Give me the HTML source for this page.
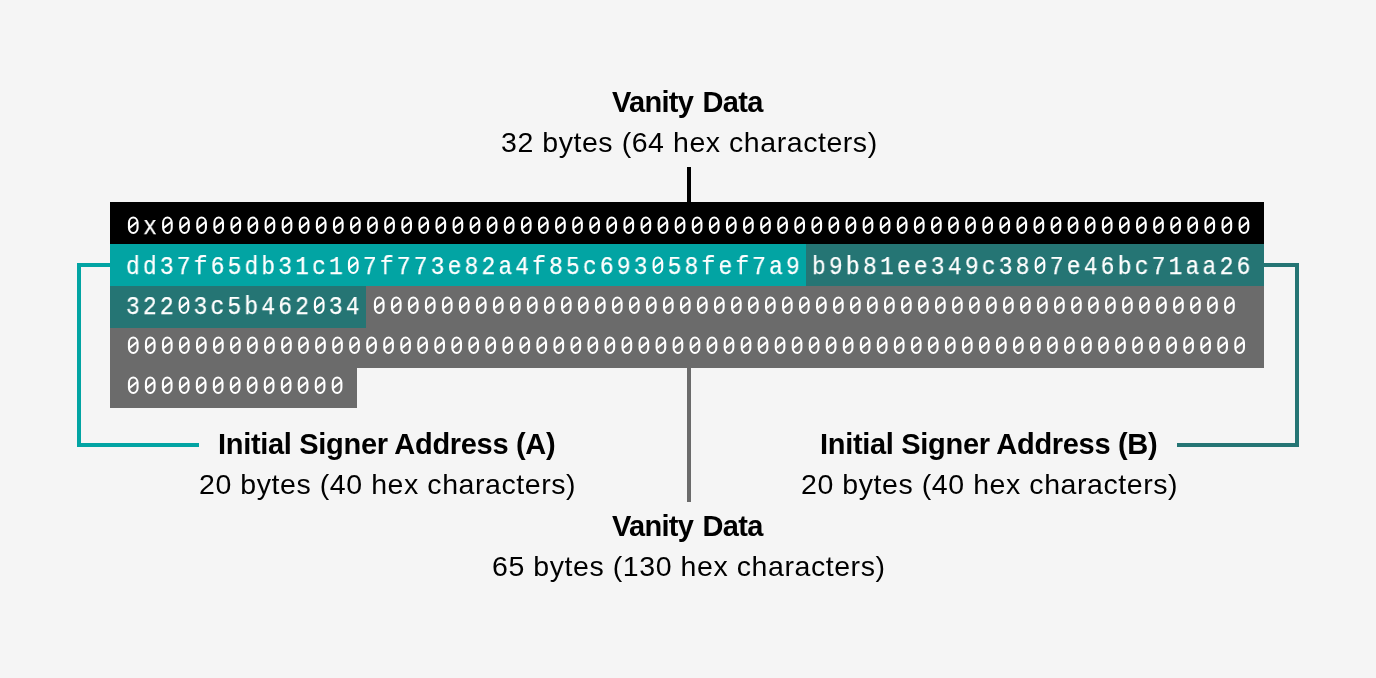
<!DOCTYPE html>
<html><head><meta charset="utf-8">
<style>
html,body{margin:0;padding:0}
body{width:1376px;height:678px;background:#f5f5f5;position:relative;overflow:hidden;font-family:"Liberation Sans",sans-serif;color:#000}
.a{position:absolute}
.m{position:absolute;font-family:"Liberation Mono",monospace;font-size:26px;line-height:30px;color:#fff;white-space:pre;transform:scaleX(0.88);transform-origin:0 0;will-change:transform;-webkit-text-stroke:0.25px #fff}
.lb{position:absolute;white-space:nowrap;line-height:30px;font-size:28.5px;will-change:transform}
.b{font-weight:bold;font-size:29px}
svg{position:absolute;left:0;top:0}
.m i{font-style:normal;color:transparent;-webkit-text-stroke:0}
</style></head><body>

<div class="a" style="left:77px;top:263px;width:4px;height:184px;background:#02a4a3"></div>
<div class="a" style="left:77px;top:263px;width:33px;height:4px;background:#02a4a3"></div>
<div class="a" style="left:77px;top:443px;width:122px;height:4px;background:#02a4a3"></div>
<div class="a" style="left:1295px;top:263px;width:4px;height:184px;background:#257574"></div>
<div class="a" style="left:1264px;top:263px;width:35px;height:4px;background:#257574"></div>
<div class="a" style="left:1177px;top:443px;width:122px;height:4px;background:#257574"></div>
<div class="a" style="left:687px;top:167px;width:4px;height:35px;background:#000"></div>
<div class="a" style="left:687px;top:368px;width:4px;height:134px;background:#6b6b6b"></div>
<div class="a" style="left:110px;top:202px;width:1154px;height:42px;background:#000"></div>
<div class="a" style="left:110px;top:244px;width:696px;height:42px;background:#02a4a3"></div>
<div class="a" style="left:806px;top:244px;width:458px;height:42px;background:#257574"></div>
<div class="a" style="left:110px;top:286px;width:256px;height:42px;background:#257574"></div>
<div class="a" style="left:366px;top:286px;width:898px;height:42px;background:#6b6b6b"></div>
<div class="a" style="left:110px;top:328px;width:1154px;height:40px;background:#6b6b6b"></div>
<div class="a" style="left:110px;top:368px;width:247px;height:40px;background:#6b6b6b"></div>
<div class="m" style="left:126px;top:212px;letter-spacing:3.815px"><i>0</i>x<i>0000000000000000000000000000000000000000000000000000000000000000</i></div>
<div class="m" style="left:126px;top:252px;letter-spacing:3.63px">dd37f65db31c1<i>0</i>7f773e82a4f85c693<i>0</i>58fef7a9</div>
<div class="m" style="left:812px;top:252px;letter-spacing:3.695px">b9b81ee349c38<i>0</i>7e46bc71aa26</div>
<div class="m" style="left:126px;top:292px;letter-spacing:3.61px">322<i>0</i>3c5b462<i>0</i>34</div>
<div class="m" style="left:372px;top:292px;letter-spacing:3.72px"><i>000000000000000000000000000000000000000000000000000</i></div>
<div class="m" style="left:126px;top:332px;letter-spacing:3.74px"><i>000000000000000000000000000000000000000000000000000000000000000000</i></div>
<div class="m" style="left:126px;top:372px;letter-spacing:3.7px"><i>0000000000000</i></div>
<svg width="1376" height="678" viewBox="0 0 1376 678"><g fill="none" stroke="#fff" stroke-width="2.1">
<rect x="128.95" y="217.55" width="8.6" height="15.4" rx="4.3" ry="5.2"/>
<rect x="163.12" y="217.55" width="8.6" height="15.4" rx="4.3" ry="5.2"/>
<rect x="180.21" y="217.55" width="8.6" height="15.4" rx="4.3" ry="5.2"/>
<rect x="197.30" y="217.55" width="8.6" height="15.4" rx="4.3" ry="5.2"/>
<rect x="214.39" y="217.55" width="8.6" height="15.4" rx="4.3" ry="5.2"/>
<rect x="231.47" y="217.55" width="8.6" height="15.4" rx="4.3" ry="5.2"/>
<rect x="248.56" y="217.55" width="8.6" height="15.4" rx="4.3" ry="5.2"/>
<rect x="265.65" y="217.55" width="8.6" height="15.4" rx="4.3" ry="5.2"/>
<rect x="282.74" y="217.55" width="8.6" height="15.4" rx="4.3" ry="5.2"/>
<rect x="299.82" y="217.55" width="8.6" height="15.4" rx="4.3" ry="5.2"/>
<rect x="316.91" y="217.55" width="8.6" height="15.4" rx="4.3" ry="5.2"/>
<rect x="334.00" y="217.55" width="8.6" height="15.4" rx="4.3" ry="5.2"/>
<rect x="351.09" y="217.55" width="8.6" height="15.4" rx="4.3" ry="5.2"/>
<rect x="368.17" y="217.55" width="8.6" height="15.4" rx="4.3" ry="5.2"/>
<rect x="385.26" y="217.55" width="8.6" height="15.4" rx="4.3" ry="5.2"/>
<rect x="402.35" y="217.55" width="8.6" height="15.4" rx="4.3" ry="5.2"/>
<rect x="419.44" y="217.55" width="8.6" height="15.4" rx="4.3" ry="5.2"/>
<rect x="436.52" y="217.55" width="8.6" height="15.4" rx="4.3" ry="5.2"/>
<rect x="453.61" y="217.55" width="8.6" height="15.4" rx="4.3" ry="5.2"/>
<rect x="470.70" y="217.55" width="8.6" height="15.4" rx="4.3" ry="5.2"/>
<rect x="487.79" y="217.55" width="8.6" height="15.4" rx="4.3" ry="5.2"/>
<rect x="504.87" y="217.55" width="8.6" height="15.4" rx="4.3" ry="5.2"/>
<rect x="521.96" y="217.55" width="8.6" height="15.4" rx="4.3" ry="5.2"/>
<rect x="539.05" y="217.55" width="8.6" height="15.4" rx="4.3" ry="5.2"/>
<rect x="556.14" y="217.55" width="8.6" height="15.4" rx="4.3" ry="5.2"/>
<rect x="573.22" y="217.55" width="8.6" height="15.4" rx="4.3" ry="5.2"/>
<rect x="590.31" y="217.55" width="8.6" height="15.4" rx="4.3" ry="5.2"/>
<rect x="607.40" y="217.55" width="8.6" height="15.4" rx="4.3" ry="5.2"/>
<rect x="624.49" y="217.55" width="8.6" height="15.4" rx="4.3" ry="5.2"/>
<rect x="641.57" y="217.55" width="8.6" height="15.4" rx="4.3" ry="5.2"/>
<rect x="658.66" y="217.55" width="8.6" height="15.4" rx="4.3" ry="5.2"/>
<rect x="675.75" y="217.55" width="8.6" height="15.4" rx="4.3" ry="5.2"/>
<rect x="692.84" y="217.55" width="8.6" height="15.4" rx="4.3" ry="5.2"/>
<rect x="709.92" y="217.55" width="8.6" height="15.4" rx="4.3" ry="5.2"/>
<rect x="727.01" y="217.55" width="8.6" height="15.4" rx="4.3" ry="5.2"/>
<rect x="744.10" y="217.55" width="8.6" height="15.4" rx="4.3" ry="5.2"/>
<rect x="761.19" y="217.55" width="8.6" height="15.4" rx="4.3" ry="5.2"/>
<rect x="778.27" y="217.55" width="8.6" height="15.4" rx="4.3" ry="5.2"/>
<rect x="795.36" y="217.55" width="8.6" height="15.4" rx="4.3" ry="5.2"/>
<rect x="812.45" y="217.55" width="8.6" height="15.4" rx="4.3" ry="5.2"/>
<rect x="829.53" y="217.55" width="8.6" height="15.4" rx="4.3" ry="5.2"/>
<rect x="846.62" y="217.55" width="8.6" height="15.4" rx="4.3" ry="5.2"/>
<rect x="863.71" y="217.55" width="8.6" height="15.4" rx="4.3" ry="5.2"/>
<rect x="880.80" y="217.55" width="8.6" height="15.4" rx="4.3" ry="5.2"/>
<rect x="897.88" y="217.55" width="8.6" height="15.4" rx="4.3" ry="5.2"/>
<rect x="914.97" y="217.55" width="8.6" height="15.4" rx="4.3" ry="5.2"/>
<rect x="932.06" y="217.55" width="8.6" height="15.4" rx="4.3" ry="5.2"/>
<rect x="949.15" y="217.55" width="8.6" height="15.4" rx="4.3" ry="5.2"/>
<rect x="966.23" y="217.55" width="8.6" height="15.4" rx="4.3" ry="5.2"/>
<rect x="983.32" y="217.55" width="8.6" height="15.4" rx="4.3" ry="5.2"/>
<rect x="1000.41" y="217.55" width="8.6" height="15.4" rx="4.3" ry="5.2"/>
<rect x="1017.50" y="217.55" width="8.6" height="15.4" rx="4.3" ry="5.2"/>
<rect x="1034.58" y="217.55" width="8.6" height="15.4" rx="4.3" ry="5.2"/>
<rect x="1051.67" y="217.55" width="8.6" height="15.4" rx="4.3" ry="5.2"/>
<rect x="1068.76" y="217.55" width="8.6" height="15.4" rx="4.3" ry="5.2"/>
<rect x="1085.85" y="217.55" width="8.6" height="15.4" rx="4.3" ry="5.2"/>
<rect x="1102.93" y="217.55" width="8.6" height="15.4" rx="4.3" ry="5.2"/>
<rect x="1120.02" y="217.55" width="8.6" height="15.4" rx="4.3" ry="5.2"/>
<rect x="1137.11" y="217.55" width="8.6" height="15.4" rx="4.3" ry="5.2"/>
<rect x="1154.20" y="217.55" width="8.6" height="15.4" rx="4.3" ry="5.2"/>
<rect x="1171.28" y="217.55" width="8.6" height="15.4" rx="4.3" ry="5.2"/>
<rect x="1188.37" y="217.55" width="8.6" height="15.4" rx="4.3" ry="5.2"/>
<rect x="1205.46" y="217.55" width="8.6" height="15.4" rx="4.3" ry="5.2"/>
<rect x="1222.55" y="217.55" width="8.6" height="15.4" rx="4.3" ry="5.2"/>
<rect x="1239.63" y="217.55" width="8.6" height="15.4" rx="4.3" ry="5.2"/>
<rect x="348.97" y="257.55" width="8.6" height="15.4" rx="4.3" ry="5.2"/>
<rect x="653.61" y="257.55" width="8.6" height="15.4" rx="4.3" ry="5.2"/>
<rect x="1035.71" y="257.55" width="8.6" height="15.4" rx="4.3" ry="5.2"/>
<rect x="179.67" y="297.55" width="8.6" height="15.4" rx="4.3" ry="5.2"/>
<rect x="314.93" y="297.55" width="8.6" height="15.4" rx="4.3" ry="5.2"/>
<rect x="374.95" y="297.55" width="8.6" height="15.4" rx="4.3" ry="5.2"/>
<rect x="391.95" y="297.55" width="8.6" height="15.4" rx="4.3" ry="5.2"/>
<rect x="408.96" y="297.55" width="8.6" height="15.4" rx="4.3" ry="5.2"/>
<rect x="425.96" y="297.55" width="8.6" height="15.4" rx="4.3" ry="5.2"/>
<rect x="442.97" y="297.55" width="8.6" height="15.4" rx="4.3" ry="5.2"/>
<rect x="459.97" y="297.55" width="8.6" height="15.4" rx="4.3" ry="5.2"/>
<rect x="476.97" y="297.55" width="8.6" height="15.4" rx="4.3" ry="5.2"/>
<rect x="493.98" y="297.55" width="8.6" height="15.4" rx="4.3" ry="5.2"/>
<rect x="510.98" y="297.55" width="8.6" height="15.4" rx="4.3" ry="5.2"/>
<rect x="527.98" y="297.55" width="8.6" height="15.4" rx="4.3" ry="5.2"/>
<rect x="544.99" y="297.55" width="8.6" height="15.4" rx="4.3" ry="5.2"/>
<rect x="561.99" y="297.55" width="8.6" height="15.4" rx="4.3" ry="5.2"/>
<rect x="579.00" y="297.55" width="8.6" height="15.4" rx="4.3" ry="5.2"/>
<rect x="596.00" y="297.55" width="8.6" height="15.4" rx="4.3" ry="5.2"/>
<rect x="613.00" y="297.55" width="8.6" height="15.4" rx="4.3" ry="5.2"/>
<rect x="630.01" y="297.55" width="8.6" height="15.4" rx="4.3" ry="5.2"/>
<rect x="647.01" y="297.55" width="8.6" height="15.4" rx="4.3" ry="5.2"/>
<rect x="664.02" y="297.55" width="8.6" height="15.4" rx="4.3" ry="5.2"/>
<rect x="681.02" y="297.55" width="8.6" height="15.4" rx="4.3" ry="5.2"/>
<rect x="698.02" y="297.55" width="8.6" height="15.4" rx="4.3" ry="5.2"/>
<rect x="715.03" y="297.55" width="8.6" height="15.4" rx="4.3" ry="5.2"/>
<rect x="732.03" y="297.55" width="8.6" height="15.4" rx="4.3" ry="5.2"/>
<rect x="749.03" y="297.55" width="8.6" height="15.4" rx="4.3" ry="5.2"/>
<rect x="766.04" y="297.55" width="8.6" height="15.4" rx="4.3" ry="5.2"/>
<rect x="783.04" y="297.55" width="8.6" height="15.4" rx="4.3" ry="5.2"/>
<rect x="800.05" y="297.55" width="8.6" height="15.4" rx="4.3" ry="5.2"/>
<rect x="817.05" y="297.55" width="8.6" height="15.4" rx="4.3" ry="5.2"/>
<rect x="834.05" y="297.55" width="8.6" height="15.4" rx="4.3" ry="5.2"/>
<rect x="851.06" y="297.55" width="8.6" height="15.4" rx="4.3" ry="5.2"/>
<rect x="868.06" y="297.55" width="8.6" height="15.4" rx="4.3" ry="5.2"/>
<rect x="885.07" y="297.55" width="8.6" height="15.4" rx="4.3" ry="5.2"/>
<rect x="902.07" y="297.55" width="8.6" height="15.4" rx="4.3" ry="5.2"/>
<rect x="919.07" y="297.55" width="8.6" height="15.4" rx="4.3" ry="5.2"/>
<rect x="936.08" y="297.55" width="8.6" height="15.4" rx="4.3" ry="5.2"/>
<rect x="953.08" y="297.55" width="8.6" height="15.4" rx="4.3" ry="5.2"/>
<rect x="970.08" y="297.55" width="8.6" height="15.4" rx="4.3" ry="5.2"/>
<rect x="987.09" y="297.55" width="8.6" height="15.4" rx="4.3" ry="5.2"/>
<rect x="1004.09" y="297.55" width="8.6" height="15.4" rx="4.3" ry="5.2"/>
<rect x="1021.10" y="297.55" width="8.6" height="15.4" rx="4.3" ry="5.2"/>
<rect x="1038.10" y="297.55" width="8.6" height="15.4" rx="4.3" ry="5.2"/>
<rect x="1055.10" y="297.55" width="8.6" height="15.4" rx="4.3" ry="5.2"/>
<rect x="1072.11" y="297.55" width="8.6" height="15.4" rx="4.3" ry="5.2"/>
<rect x="1089.11" y="297.55" width="8.6" height="15.4" rx="4.3" ry="5.2"/>
<rect x="1106.11" y="297.55" width="8.6" height="15.4" rx="4.3" ry="5.2"/>
<rect x="1123.12" y="297.55" width="8.6" height="15.4" rx="4.3" ry="5.2"/>
<rect x="1140.12" y="297.55" width="8.6" height="15.4" rx="4.3" ry="5.2"/>
<rect x="1157.13" y="297.55" width="8.6" height="15.4" rx="4.3" ry="5.2"/>
<rect x="1174.13" y="297.55" width="8.6" height="15.4" rx="4.3" ry="5.2"/>
<rect x="1191.13" y="297.55" width="8.6" height="15.4" rx="4.3" ry="5.2"/>
<rect x="1208.14" y="297.55" width="8.6" height="15.4" rx="4.3" ry="5.2"/>
<rect x="1225.14" y="297.55" width="8.6" height="15.4" rx="4.3" ry="5.2"/>
<rect x="128.95" y="337.55" width="8.6" height="15.4" rx="4.3" ry="5.2"/>
<rect x="145.97" y="337.55" width="8.6" height="15.4" rx="4.3" ry="5.2"/>
<rect x="162.99" y="337.55" width="8.6" height="15.4" rx="4.3" ry="5.2"/>
<rect x="180.01" y="337.55" width="8.6" height="15.4" rx="4.3" ry="5.2"/>
<rect x="197.04" y="337.55" width="8.6" height="15.4" rx="4.3" ry="5.2"/>
<rect x="214.06" y="337.55" width="8.6" height="15.4" rx="4.3" ry="5.2"/>
<rect x="231.08" y="337.55" width="8.6" height="15.4" rx="4.3" ry="5.2"/>
<rect x="248.10" y="337.55" width="8.6" height="15.4" rx="4.3" ry="5.2"/>
<rect x="265.12" y="337.55" width="8.6" height="15.4" rx="4.3" ry="5.2"/>
<rect x="282.14" y="337.55" width="8.6" height="15.4" rx="4.3" ry="5.2"/>
<rect x="299.16" y="337.55" width="8.6" height="15.4" rx="4.3" ry="5.2"/>
<rect x="316.19" y="337.55" width="8.6" height="15.4" rx="4.3" ry="5.2"/>
<rect x="333.21" y="337.55" width="8.6" height="15.4" rx="4.3" ry="5.2"/>
<rect x="350.23" y="337.55" width="8.6" height="15.4" rx="4.3" ry="5.2"/>
<rect x="367.25" y="337.55" width="8.6" height="15.4" rx="4.3" ry="5.2"/>
<rect x="384.27" y="337.55" width="8.6" height="15.4" rx="4.3" ry="5.2"/>
<rect x="401.29" y="337.55" width="8.6" height="15.4" rx="4.3" ry="5.2"/>
<rect x="418.31" y="337.55" width="8.6" height="15.4" rx="4.3" ry="5.2"/>
<rect x="435.34" y="337.55" width="8.6" height="15.4" rx="4.3" ry="5.2"/>
<rect x="452.36" y="337.55" width="8.6" height="15.4" rx="4.3" ry="5.2"/>
<rect x="469.38" y="337.55" width="8.6" height="15.4" rx="4.3" ry="5.2"/>
<rect x="486.40" y="337.55" width="8.6" height="15.4" rx="4.3" ry="5.2"/>
<rect x="503.42" y="337.55" width="8.6" height="15.4" rx="4.3" ry="5.2"/>
<rect x="520.44" y="337.55" width="8.6" height="15.4" rx="4.3" ry="5.2"/>
<rect x="537.46" y="337.55" width="8.6" height="15.4" rx="4.3" ry="5.2"/>
<rect x="554.49" y="337.55" width="8.6" height="15.4" rx="4.3" ry="5.2"/>
<rect x="571.51" y="337.55" width="8.6" height="15.4" rx="4.3" ry="5.2"/>
<rect x="588.53" y="337.55" width="8.6" height="15.4" rx="4.3" ry="5.2"/>
<rect x="605.55" y="337.55" width="8.6" height="15.4" rx="4.3" ry="5.2"/>
<rect x="622.57" y="337.55" width="8.6" height="15.4" rx="4.3" ry="5.2"/>
<rect x="639.59" y="337.55" width="8.6" height="15.4" rx="4.3" ry="5.2"/>
<rect x="656.61" y="337.55" width="8.6" height="15.4" rx="4.3" ry="5.2"/>
<rect x="673.64" y="337.55" width="8.6" height="15.4" rx="4.3" ry="5.2"/>
<rect x="690.66" y="337.55" width="8.6" height="15.4" rx="4.3" ry="5.2"/>
<rect x="707.68" y="337.55" width="8.6" height="15.4" rx="4.3" ry="5.2"/>
<rect x="724.70" y="337.55" width="8.6" height="15.4" rx="4.3" ry="5.2"/>
<rect x="741.72" y="337.55" width="8.6" height="15.4" rx="4.3" ry="5.2"/>
<rect x="758.74" y="337.55" width="8.6" height="15.4" rx="4.3" ry="5.2"/>
<rect x="775.76" y="337.55" width="8.6" height="15.4" rx="4.3" ry="5.2"/>
<rect x="792.79" y="337.55" width="8.6" height="15.4" rx="4.3" ry="5.2"/>
<rect x="809.81" y="337.55" width="8.6" height="15.4" rx="4.3" ry="5.2"/>
<rect x="826.83" y="337.55" width="8.6" height="15.4" rx="4.3" ry="5.2"/>
<rect x="843.85" y="337.55" width="8.6" height="15.4" rx="4.3" ry="5.2"/>
<rect x="860.87" y="337.55" width="8.6" height="15.4" rx="4.3" ry="5.2"/>
<rect x="877.89" y="337.55" width="8.6" height="15.4" rx="4.3" ry="5.2"/>
<rect x="894.91" y="337.55" width="8.6" height="15.4" rx="4.3" ry="5.2"/>
<rect x="911.94" y="337.55" width="8.6" height="15.4" rx="4.3" ry="5.2"/>
<rect x="928.96" y="337.55" width="8.6" height="15.4" rx="4.3" ry="5.2"/>
<rect x="945.98" y="337.55" width="8.6" height="15.4" rx="4.3" ry="5.2"/>
<rect x="963.00" y="337.55" width="8.6" height="15.4" rx="4.3" ry="5.2"/>
<rect x="980.02" y="337.55" width="8.6" height="15.4" rx="4.3" ry="5.2"/>
<rect x="997.04" y="337.55" width="8.6" height="15.4" rx="4.3" ry="5.2"/>
<rect x="1014.06" y="337.55" width="8.6" height="15.4" rx="4.3" ry="5.2"/>
<rect x="1031.09" y="337.55" width="8.6" height="15.4" rx="4.3" ry="5.2"/>
<rect x="1048.11" y="337.55" width="8.6" height="15.4" rx="4.3" ry="5.2"/>
<rect x="1065.13" y="337.55" width="8.6" height="15.4" rx="4.3" ry="5.2"/>
<rect x="1082.15" y="337.55" width="8.6" height="15.4" rx="4.3" ry="5.2"/>
<rect x="1099.17" y="337.55" width="8.6" height="15.4" rx="4.3" ry="5.2"/>
<rect x="1116.19" y="337.55" width="8.6" height="15.4" rx="4.3" ry="5.2"/>
<rect x="1133.21" y="337.55" width="8.6" height="15.4" rx="4.3" ry="5.2"/>
<rect x="1150.24" y="337.55" width="8.6" height="15.4" rx="4.3" ry="5.2"/>
<rect x="1167.26" y="337.55" width="8.6" height="15.4" rx="4.3" ry="5.2"/>
<rect x="1184.28" y="337.55" width="8.6" height="15.4" rx="4.3" ry="5.2"/>
<rect x="1201.30" y="337.55" width="8.6" height="15.4" rx="4.3" ry="5.2"/>
<rect x="1218.32" y="337.55" width="8.6" height="15.4" rx="4.3" ry="5.2"/>
<rect x="1235.34" y="337.55" width="8.6" height="15.4" rx="4.3" ry="5.2"/>
<rect x="128.95" y="377.55" width="8.6" height="15.4" rx="4.3" ry="5.2"/>
<rect x="145.94" y="377.55" width="8.6" height="15.4" rx="4.3" ry="5.2"/>
<rect x="162.92" y="377.55" width="8.6" height="15.4" rx="4.3" ry="5.2"/>
<rect x="179.91" y="377.55" width="8.6" height="15.4" rx="4.3" ry="5.2"/>
<rect x="196.89" y="377.55" width="8.6" height="15.4" rx="4.3" ry="5.2"/>
<rect x="213.88" y="377.55" width="8.6" height="15.4" rx="4.3" ry="5.2"/>
<rect x="230.87" y="377.55" width="8.6" height="15.4" rx="4.3" ry="5.2"/>
<rect x="247.85" y="377.55" width="8.6" height="15.4" rx="4.3" ry="5.2"/>
<rect x="264.84" y="377.55" width="8.6" height="15.4" rx="4.3" ry="5.2"/>
<rect x="281.83" y="377.55" width="8.6" height="15.4" rx="4.3" ry="5.2"/>
<rect x="298.81" y="377.55" width="8.6" height="15.4" rx="4.3" ry="5.2"/>
<rect x="315.80" y="377.55" width="8.6" height="15.4" rx="4.3" ry="5.2"/>
<rect x="332.78" y="377.55" width="8.6" height="15.4" rx="4.3" ry="5.2"/>
<path d="M129.50 228.00L137.00 222.00M163.67 228.00L171.17 222.00M180.76 228.00L188.26 222.00M197.85 228.00L205.35 222.00M214.94 228.00L222.44 222.00M232.02 228.00L239.52 222.00M249.11 228.00L256.61 222.00M266.20 228.00L273.70 222.00M283.29 228.00L290.79 222.00M300.37 228.00L307.87 222.00M317.46 228.00L324.96 222.00M334.55 228.00L342.05 222.00M351.64 228.00L359.14 222.00M368.72 228.00L376.22 222.00M385.81 228.00L393.31 222.00M402.90 228.00L410.40 222.00M419.99 228.00L427.49 222.00M437.07 228.00L444.57 222.00M454.16 228.00L461.66 222.00M471.25 228.00L478.75 222.00M488.34 228.00L495.84 222.00M505.42 228.00L512.92 222.00M522.51 228.00L530.01 222.00M539.60 228.00L547.10 222.00M556.69 228.00L564.19 222.00M573.77 228.00L581.27 222.00M590.86 228.00L598.36 222.00M607.95 228.00L615.45 222.00M625.04 228.00L632.54 222.00M642.12 228.00L649.62 222.00M659.21 228.00L666.71 222.00M676.30 228.00L683.80 222.00M693.39 228.00L700.89 222.00M710.47 228.00L717.97 222.00M727.56 228.00L735.06 222.00M744.65 228.00L752.15 222.00M761.74 228.00L769.24 222.00M778.82 228.00L786.32 222.00M795.91 228.00L803.41 222.00M813.00 228.00L820.50 222.00M830.08 228.00L837.58 222.00M847.17 228.00L854.67 222.00M864.26 228.00L871.76 222.00M881.35 228.00L888.85 222.00M898.43 228.00L905.93 222.00M915.52 228.00L923.02 222.00M932.61 228.00L940.11 222.00M949.70 228.00L957.20 222.00M966.78 228.00L974.28 222.00M983.87 228.00L991.37 222.00M1000.96 228.00L1008.46 222.00M1018.05 228.00L1025.55 222.00M1035.13 228.00L1042.63 222.00M1052.22 228.00L1059.72 222.00M1069.31 228.00L1076.81 222.00M1086.40 228.00L1093.90 222.00M1103.48 228.00L1110.98 222.00M1120.57 228.00L1128.07 222.00M1137.66 228.00L1145.16 222.00M1154.75 228.00L1162.25 222.00M1171.83 228.00L1179.33 222.00M1188.92 228.00L1196.42 222.00M1206.01 228.00L1213.51 222.00M1223.10 228.00L1230.60 222.00M1240.18 228.00L1247.68 222.00M349.52 268.00L357.02 262.00M654.16 268.00L661.66 262.00M1036.26 268.00L1043.76 262.00M180.22 308.00L187.72 302.00M315.48 308.00L322.98 302.00M375.50 308.00L383.00 302.00M392.50 308.00L400.00 302.00M409.51 308.00L417.01 302.00M426.51 308.00L434.01 302.00M443.52 308.00L451.02 302.00M460.52 308.00L468.02 302.00M477.52 308.00L485.02 302.00M494.53 308.00L502.03 302.00M511.53 308.00L519.03 302.00M528.53 308.00L536.03 302.00M545.54 308.00L553.04 302.00M562.54 308.00L570.04 302.00M579.55 308.00L587.05 302.00M596.55 308.00L604.05 302.00M613.55 308.00L621.05 302.00M630.56 308.00L638.06 302.00M647.56 308.00L655.06 302.00M664.57 308.00L672.07 302.00M681.57 308.00L689.07 302.00M698.57 308.00L706.07 302.00M715.58 308.00L723.08 302.00M732.58 308.00L740.08 302.00M749.58 308.00L757.08 302.00M766.59 308.00L774.09 302.00M783.59 308.00L791.09 302.00M800.60 308.00L808.10 302.00M817.60 308.00L825.10 302.00M834.60 308.00L842.10 302.00M851.61 308.00L859.11 302.00M868.61 308.00L876.11 302.00M885.62 308.00L893.12 302.00M902.62 308.00L910.12 302.00M919.62 308.00L927.12 302.00M936.63 308.00L944.13 302.00M953.63 308.00L961.13 302.00M970.63 308.00L978.13 302.00M987.64 308.00L995.14 302.00M1004.64 308.00L1012.14 302.00M1021.65 308.00L1029.15 302.00M1038.65 308.00L1046.15 302.00M1055.65 308.00L1063.15 302.00M1072.66 308.00L1080.16 302.00M1089.66 308.00L1097.16 302.00M1106.66 308.00L1114.16 302.00M1123.67 308.00L1131.17 302.00M1140.67 308.00L1148.17 302.00M1157.68 308.00L1165.18 302.00M1174.68 308.00L1182.18 302.00M1191.68 308.00L1199.18 302.00M1208.69 308.00L1216.19 302.00M1225.69 308.00L1233.19 302.00M129.50 348.00L137.00 342.00M146.52 348.00L154.02 342.00M163.54 348.00L171.04 342.00M180.56 348.00L188.06 342.00M197.59 348.00L205.09 342.00M214.61 348.00L222.11 342.00M231.63 348.00L239.13 342.00M248.65 348.00L256.15 342.00M265.67 348.00L273.17 342.00M282.69 348.00L290.19 342.00M299.71 348.00L307.21 342.00M316.74 348.00L324.24 342.00M333.76 348.00L341.26 342.00M350.78 348.00L358.28 342.00M367.80 348.00L375.30 342.00M384.82 348.00L392.32 342.00M401.84 348.00L409.34 342.00M418.86 348.00L426.36 342.00M435.89 348.00L443.39 342.00M452.91 348.00L460.41 342.00M469.93 348.00L477.43 342.00M486.95 348.00L494.45 342.00M503.97 348.00L511.47 342.00M520.99 348.00L528.49 342.00M538.01 348.00L545.51 342.00M555.04 348.00L562.54 342.00M572.06 348.00L579.56 342.00M589.08 348.00L596.58 342.00M606.10 348.00L613.60 342.00M623.12 348.00L630.62 342.00M640.14 348.00L647.64 342.00M657.16 348.00L664.66 342.00M674.19 348.00L681.69 342.00M691.21 348.00L698.71 342.00M708.23 348.00L715.73 342.00M725.25 348.00L732.75 342.00M742.27 348.00L749.77 342.00M759.29 348.00L766.79 342.00M776.31 348.00L783.81 342.00M793.34 348.00L800.84 342.00M810.36 348.00L817.86 342.00M827.38 348.00L834.88 342.00M844.40 348.00L851.90 342.00M861.42 348.00L868.92 342.00M878.44 348.00L885.94 342.00M895.46 348.00L902.96 342.00M912.49 348.00L919.99 342.00M929.51 348.00L937.01 342.00M946.53 348.00L954.03 342.00M963.55 348.00L971.05 342.00M980.57 348.00L988.07 342.00M997.59 348.00L1005.09 342.00M1014.61 348.00L1022.11 342.00M1031.64 348.00L1039.14 342.00M1048.66 348.00L1056.16 342.00M1065.68 348.00L1073.18 342.00M1082.70 348.00L1090.20 342.00M1099.72 348.00L1107.22 342.00M1116.74 348.00L1124.24 342.00M1133.76 348.00L1141.26 342.00M1150.79 348.00L1158.29 342.00M1167.81 348.00L1175.31 342.00M1184.83 348.00L1192.33 342.00M1201.85 348.00L1209.35 342.00M1218.87 348.00L1226.37 342.00M1235.89 348.00L1243.39 342.00M129.50 388.00L137.00 382.00M146.49 388.00L153.99 382.00M163.47 388.00L170.97 382.00M180.46 388.00L187.96 382.00M197.44 388.00L204.94 382.00M214.43 388.00L221.93 382.00M231.42 388.00L238.92 382.00M248.40 388.00L255.90 382.00M265.39 388.00L272.89 382.00M282.38 388.00L289.88 382.00M299.36 388.00L306.86 382.00M316.35 388.00L323.85 382.00M333.33 388.00L340.83 382.00"/></g>
</svg>
<div class="lb b" style="left:612px;top:87px;letter-spacing:-0.7px;word-spacing:2px">Vanity Data</div>
<div class="lb" style="left:501px;top:127px;letter-spacing:0.555px">32 bytes (64 hex characters)</div>
<div class="lb b" style="left:217.5px;top:429px;letter-spacing:-0.31px">Initial Signer Address (A)</div>
<div class="lb" style="left:199px;top:469px;letter-spacing:0.57px">20 bytes (40 hex characters)</div>
<div class="lb b" style="left:819.5px;top:429px;letter-spacing:-0.31px">Initial Signer Address (B)</div>
<div class="lb" style="left:801px;top:469px;letter-spacing:0.57px">20 bytes (40 hex characters)</div>
<div class="lb b" style="left:612px;top:511px;letter-spacing:-0.7px;word-spacing:2px">Vanity Data</div>
<div class="lb" style="left:492px;top:551px;letter-spacing:0.57px">65 bytes (130 hex characters)</div>
</body></html>
